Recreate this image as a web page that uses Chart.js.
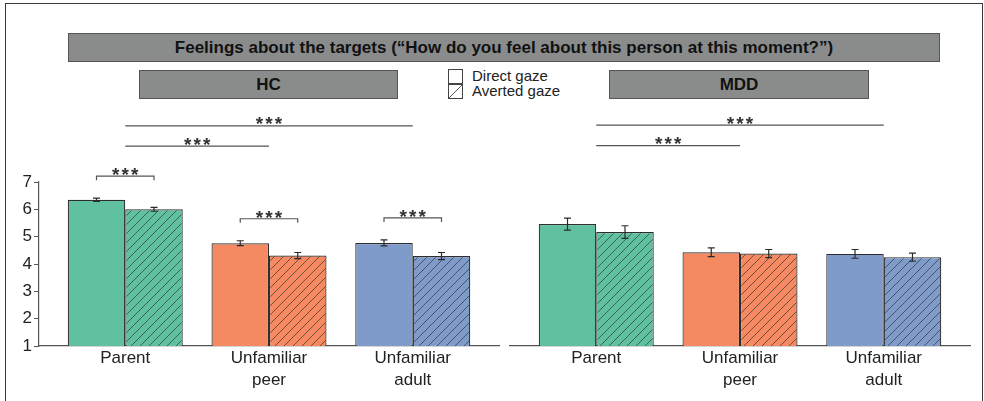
<!DOCTYPE html>
<html>
<head>
<meta charset="utf-8">
<script src="https://cdn.jsdelivr.net/npm/chart.js@4"></script>
<style>
  html, body { margin: 0; padding: 0; background: #fff; }
  body { width: 984px; height: 401px; position: relative; overflow: hidden; font-family: 'Liberation Sans', Arial, sans-serif; color: #111; }
  .frame { position: absolute; left: 5px; top: 3px; width: 978px; height: 420px; border: 1.5px solid #3a3a3a; box-sizing: border-box; }
  .box { position: absolute; background: #8a8c8c; border: 1px solid #555; box-sizing: border-box; text-align: center; font-weight: bold; color: #111; }
  .legend { position: absolute; left: 448px; top: 69px; font-size: 15px; color: #222; }
  .legend .row { position: relative; height: 15px; }
  .legend .sw { position: absolute; left: 0; width: 15px; height: 15px; box-sizing: border-box; border: 1px solid #444; background: #fff; }
  .legend .hatch { background: linear-gradient(to bottom right, #fff calc(50% - 0.7px), #555 50%, #fff calc(50% + 0.7px)); }
  .legend .lbl { position: absolute; left: 24px; top: -2px; white-space: nowrap; line-height: 17px; }
  canvas { position: absolute; top: 0; }
</style>
</head>
<body>
<div class="frame"></div>
<div class="box" style="left:68px;top:33px;width:872px;height:29px;line-height:27px;font-size:17px;">Feelings about the targets (“How do you feel about this person at this moment?”)</div>
<div class="box" style="left:139px;top:70px;width:259px;height:29px;line-height:27px;font-size:17px;">HC</div>
<div class="box" style="left:609px;top:70px;width:260px;height:29px;line-height:27px;font-size:17px;">MDD</div>
<div class="legend">
  <div class="row"><div class="sw"></div><div class="lbl">Direct gaze</div></div>
  <div class="row"><div class="sw hatch"></div><div class="lbl">Averted gaze</div></div>
</div>
<canvas id="hc-chart" width="505" height="401" style="left:0"></canvas>
<canvas id="mdd-chart" width="479" height="401" style="left:505px"></canvas>
<script>
const categories = [['Parent'], ['Unfamiliar', 'peer'], ['Unfamiliar', 'adult']];
const yTicks = [1, 2, 3, 4, 5, 6, 7];
const catColors = ['#5fc1a0', '#f58a62', '#7f9bca'];

const hcDirect = [6.35, 4.76, 4.77];
const hcDirectErr = [0.06, 0.09, 0.11];
const hcAverted = [6.00, 4.31, 4.29];
const hcAvertedErr = [0.07, 0.11, 0.13];

const mddDirect = [5.46, 4.43, 4.37];
const mddDirectErr = [0.22, 0.16, 0.16];
const mddAverted = [5.17, 4.38, 4.25];
const mddAvertedErr = [0.23, 0.15, 0.15];

// significance marks: pairs within a category, and lines between categories
const hcPairs = [0, 1, 2];
const hcSpans = [[0, 2, 9.05], [0, 1, 8.31]];
const mddPairs = [];
const mddSpans = [[0, 2, 9.08], [0, 1, 8.33]];

const FONT = "'Liberation Sans', Arial, sans-serif";

function hatchPattern(color) {
    const c = document.createElement('canvas');
    c.width = 9; c.height = 9;
    const g = c.getContext('2d');
    g.fillStyle = color;
    g.fillRect(0, 0, 9, 9);
    g.strokeStyle = 'rgba(40, 40, 40, 0.7)';
    g.lineWidth = 0.9;
    g.beginPath();
    g.moveTo(-1, 10); g.lineTo(10, -1);
    g.moveTo(-1, 1); g.lineTo(1, -1);
    g.moveTo(8, 10); g.lineTo(10, 8);
    g.stroke();
    return g.createPattern(c, 'repeat');
}

function toPoints(values) {
    return values.map((v, i) => ({ x: i, y: v }));
}

function drawStars(ctx, cx, cy) {
    ctx.save();
    ctx.fillStyle = '#333';
    ctx.font = 'bold 19px ' + FONT;
    ctx.textAlign = 'center';
    ctx.textBaseline = 'alphabetic';
    [-9.5, 0, 9.5].forEach(dx => ctx.fillText('*', cx + dx, cy + 12));
    ctx.restore();
}

const errorBars = {
    id: 'errorBars',
    afterDatasetsDraw(chart) {
        const ctx = chart.ctx;
        const y = chart.scales.y;
        ctx.save();
        ctx.strokeStyle = '#2a2a2a';
        ctx.lineWidth = 1.2;
        chart.data.datasets.forEach((ds, di) => {
            chart.getDatasetMeta(di).data.forEach((bar, i) => {
                const v = ds.data[i].y, e = ds.errors[i];
                const top = y.getPixelForValue(v + e), bot = y.getPixelForValue(v - e);
                ctx.beginPath();
                ctx.moveTo(bar.x, top); ctx.lineTo(bar.x, bot);
                ctx.moveTo(bar.x - 3.5, top); ctx.lineTo(bar.x + 3.5, top);
                ctx.moveTo(bar.x - 3.5, bot); ctx.lineTo(bar.x + 3.5, bot);
                ctx.stroke();
            });
        });
        ctx.restore();
    }
};

const sigMarks = {
    id: 'sigMarks',
    afterDraw(chart, args, opts) {
        const ctx = chart.ctx;
        const x = chart.scales.x, y = chart.scales.y;
        ctx.save();
        ctx.strokeStyle = '#555';
        ctx.lineWidth = 1.2;
        (opts.pairs || []).forEach(i => {
            const a = chart.getDatasetMeta(0).data[i].x;
            const b = chart.getDatasetMeta(1).data[i].x;
            const top = Math.max(chart.data.datasets[0].data[i].y + chart.data.datasets[0].errors[i],
                chart.data.datasets[1].data[i].y + chart.data.datasets[1].errors[i]);
            const py = y.getPixelForValue(top) - 22;
            ctx.beginPath();
            ctx.moveTo(a, py + 4); ctx.lineTo(a, py); ctx.lineTo(b, py); ctx.lineTo(b, py + 4);
            ctx.stroke();
            drawStars(ctx, (a + b) / 2, py - 7);
        });
        (opts.spans || []).forEach(([from, to, level]) => {
            const a = x.getPixelForValue(from), b = x.getPixelForValue(to);
            const py = y.getPixelForValue(level);
            ctx.beginPath();
            ctx.moveTo(a, py); ctx.lineTo(b, py);
            ctx.stroke();
            drawStars(ctx, (a + b) / 2, py - 7.5);
        });
        ctx.restore();
    }
};

function makeChart(id, direct, directErr, averted, avertedErr, pairs, spans, showY, padding) {
    return new Chart(document.getElementById(id), {
        type: 'bar',
        data: {
            datasets: [{
                label: 'Direct gaze',
                data: toPoints(direct),
                errors: directErr,
                backgroundColor: catColors,
                borderColor: '#2e2e2e',
                borderWidth: 1.2,
                categoryPercentage: 0.8,
                barPercentage: 1.0
            }, {
                label: 'Averted gaze',
                data: toPoints(averted),
                errors: avertedErr,
                backgroundColor: catColors.map(hatchPattern),
                borderColor: '#2e2e2e',
                borderWidth: 1.2,
                categoryPercentage: 0.8,
                barPercentage: 1.0
            }]
        },
        options: {
            responsive: false,
            animation: false,
            layout: { padding: padding },
            plugins: {
                legend: { display: false },
                tooltip: { enabled: false },
                sigMarks: { pairs: pairs, spans: spans }
            },
            scales: {
                x: {
                    type: 'linear',
                    min: -0.6,
                    max: 2.6,
                    offset: false,
                    grid: { display: false, drawTicks: false },
                    border: { display: true, color: '#555', width: 1.2 },
                    afterBuildTicks: scale => { scale.ticks = categories.map((c, i) => ({ value: i })); },
                    afterFit: scale => { scale.height = 55; },
                    ticks: {
                        autoSkip: false,
                        maxRotation: 0,
                        padding: 1,
                        color: '#222',
                        font: { family: FONT, size: 17, lineHeight: 1.3 },
                        callback: v => categories[v]
                    }
                },
                y: {
                    display: showY,
                    min: 1,
                    max: 7,
                    afterBuildTicks: scale => { scale.ticks = yTicks.map(v => ({ value: v })); },
                    afterFit: scale => { scale.width = showY ? 39 : 0; },
                    grid: { drawOnChartArea: false, drawTicks: true, tickLength: 5, color: '#555' },
                    border: { display: true, color: '#555', width: 1.2 },
                    ticks: {
                        padding: 2,
                        color: '#222',
                        font: { family: FONT, size: 17 }
                    }
                }
            }
        },
        plugins: [errorBars, sigMarks]
    });
}

makeChart('hc-chart', hcDirect, hcDirectErr, hcAverted, hcAvertedErr, hcPairs, hcSpans, true,
    { left: 0, right: 6, top: 182, bottom: 0 });
makeChart('mdd-chart', mddDirect, mddDirectErr, mddAverted, mddAvertedErr, mddPairs, mddSpans, false,
    { left: 5, right: 14, top: 182, bottom: 0 });
</script>
</body>
</html>
